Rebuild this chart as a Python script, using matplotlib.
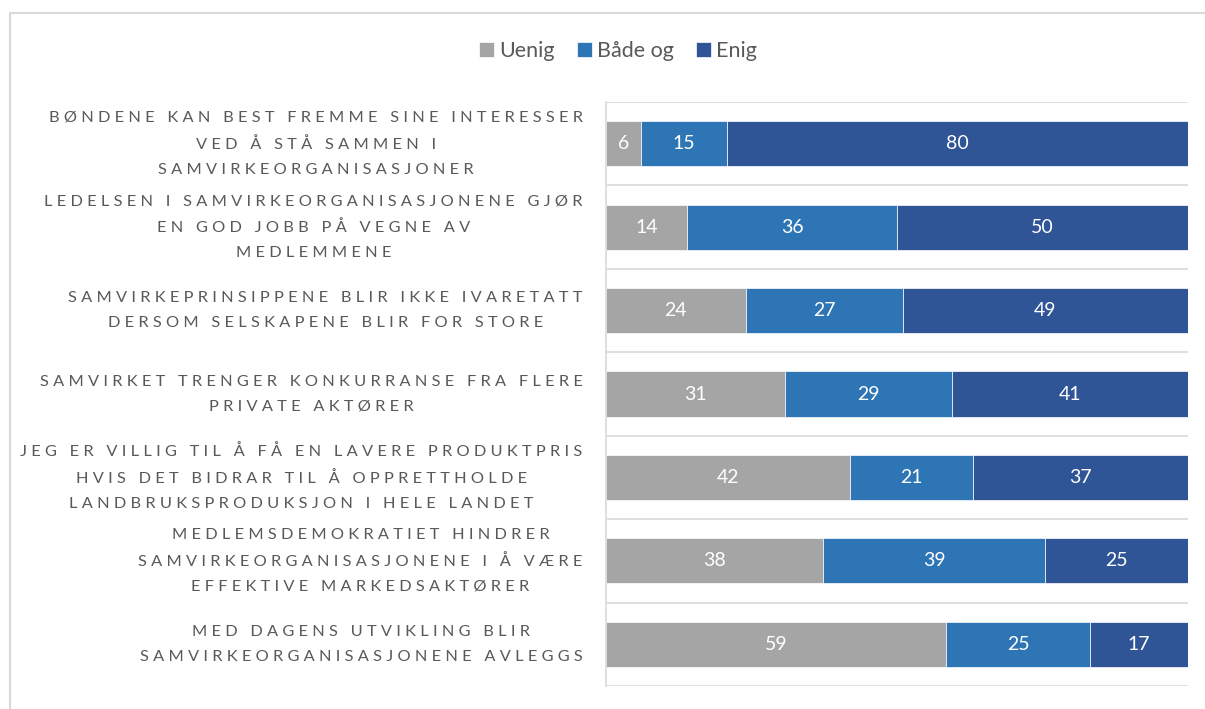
import numpy as np
import matplotlib.pyplot as plt
from matplotlib.lines import Line2D

plt.rcParams['font.family'] = ['Lato', 'DejaVu Sans']

statements = [
    "BØNDENE KAN BEST FREMME SINE INTERESSER\nVED Å STÅ SAMMEN I\nSAMVIRKEORGANISASJONER",
    "LEDELSEN I SAMVIRKEORGANISASJONENE GJØR\nEN GOD JOBB PÅ VEGNE AV\nMEDLEMMENE",
    "SAMVIRKEPRINSIPPENE BLIR IKKE IVARETATT\nDERSOM SELSKAPENE BLIR FOR STORE",
    "SAMVIRKET TRENGER KONKURRANSE FRA FLERE\nPRIVATE AKTØRER",
    "JEG ER VILLIG TIL Å FÅ EN LAVERE PRODUKTPRIS\nHVIS DET BIDRAR TIL Å OPPRETTHOLDE\nLANDBRUKSPRODUKSJON I HELE LANDET",
    "MEDLEMSDEMOKRATIET HINDRER\nSAMVIRKEORGANISASJONENE I Å VÆRE\nEFFEKTIVE MARKEDSAKTØRER",
    "MED DAGENS UTVIKLING BLIR\nSAMVIRKEORGANISASJONENE AVLEGGS",
]
uenig = [6, 14, 24, 31, 42, 38, 59]
baade_og = [15, 36, 27, 29, 21, 39, 25]
enig = [80, 50, 49, 41, 37, 25, 17]

series_names = ["Uenig", "Både og", "Enig"]
colors = ["#A5A5A5", "#2E75B6", "#2F5597"]
TEXT = "#595959"
GRID = "#D9D9D9"


def spaced(label):
    # imitate the wide letter spacing of the original
    return "\n".join(" ".join(line) for line in label.split("\n"))


fig = plt.figure(figsize=(12.05, 7.09), dpi=100)
ax = fig.add_axes([606 / 1205, 1 - 686 / 709, 582 / 1205, 584 / 709])

data = np.array([uenig, baade_og, enig], dtype=float)
totals = data.sum(axis=0)
shares = data / totals * 100
y = np.arange(len(statements))

left = np.zeros(len(statements))
for vals, share, name, color in zip(data, shares, series_names, colors):
    bars = ax.barh(y, share, left=left, height=0.54, color=color, label=name,
                   edgecolor="white", linewidth=0.5)
    ax.bar_label(bars, labels=[f"{v:.0f}" for v in vals], label_type="center",
                 color="white", fontsize=14)
    left += share

ax.set_xlim(0, 100)
ax.set_ylim(len(statements) - 0.5, -0.5)
ax.set_yticks([])
ax.set_xticks([])

# category labels: block right-aligned to the axis, lines centred
for yi, s in zip(y, statements):
    ax.text(-0.04, yi, spaced(s), transform=ax.get_yaxis_transform(),
            ha="right", va="center", multialignment="center",
            fontsize=11.8, color=TEXT, linespacing=2.0)

ax.set_yticks(np.arange(-0.5, len(statements)), minor=True)
ax.tick_params(axis="y", which="minor", length=0)
ax.grid(True, axis="y", which="minor", color=GRID, linewidth=1.2)
ax.set_axisbelow(True)
for side in ["top", "right", "bottom"]:
    ax.spines[side].set_visible(False)
ax.spines["left"].set_color(GRID)
ax.spines["left"].set_linewidth(1.2)

ax.legend(loc="center", bbox_to_anchor=(618 / 1205, 1 - 51 / 709), bbox_transform=fig.transFigure,
          ncol=3, frameon=False, fontsize=15.5, labelcolor=TEXT,
          handlelength=0.7, handleheight=0.7, handletextpad=0.25, columnspacing=1.0)

# outer chart border
fig.add_artist(Line2D([10 / 1205, 10 / 1205, 1.0], [0.0, 1 - 13 / 709, 1 - 13 / 709],
                      transform=fig.transFigure, color=GRID, linewidth=1.5))

fig.savefig("out.png", dpi=100)
